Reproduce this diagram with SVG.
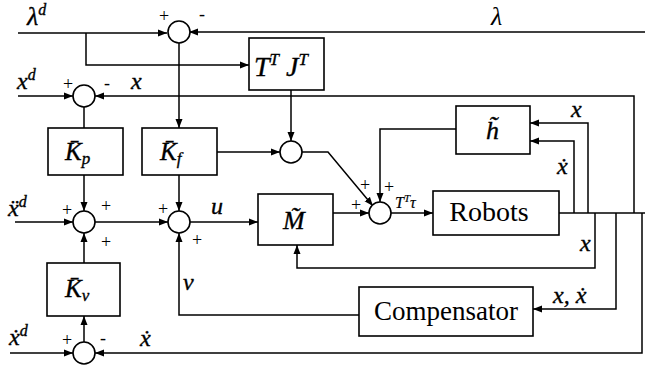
<svg xmlns="http://www.w3.org/2000/svg" width="645" height="365" viewBox="0 0 645 365">
<style>
.box{fill:#fff;stroke:#000;stroke-width:1.6}
.sum{fill:#fff;stroke:#000;stroke-width:1.6}
.ln{fill:none;stroke:#000;stroke-width:1.5}
text{font-family:'Liberation Serif','DejaVu Serif',serif;fill:#000}
.m{font-style:italic;stroke:#000;stroke-width:0.35}
.s{font-size:18px}
</style>
<defs>
<marker id="a" markerUnits="userSpaceOnUse" markerWidth="10" markerHeight="8" refX="9" refY="4" orient="auto">
<path d="M0,0.5 L9,4 L0,7.5 z" fill="#000"/>
</marker>
</defs>
<rect width="645" height="365" fill="#fff"/>
<g id="connectors">
<path class="ln" d="M18,33 H167" marker-end="url(#a)"/>
<path class="ln" d="M86,33 V65 H249" marker-end="url(#a)"/>
<path class="ln" d="M645,32 H189" marker-end="url(#a)"/>
<path class="ln" d="M179,43 V128" marker-end="url(#a)"/>
<path class="ln" d="M18,96 H73" marker-end="url(#a)"/>
<path class="ln" d="M634,213 V96 H95" marker-end="url(#a)"/>
<path class="ln" d="M84,107 V128"/>
<path class="ln" d="M84,175 V211" marker-end="url(#a)"/>
<path class="ln" d="M15,222 H73" marker-end="url(#a)"/>
<path class="ln" d="M95,222 H168" marker-end="url(#a)"/>
<path class="ln" d="M179,175 V211" marker-end="url(#a)"/>
<path class="ln" d="M217,152 H280" marker-end="url(#a)"/>
<path class="ln" d="M291,90 V141" marker-end="url(#a)"/>
<path class="ln" d="M302,152 H328 L373,206" marker-end="url(#a)"/>
<path class="ln" d="M190,222 H258" marker-end="url(#a)"/>
<path class="ln" d="M333,213 H369" marker-end="url(#a)"/>
<path class="ln" d="M456,129 H380 V202" marker-end="url(#a)"/>
<path class="ln" d="M391,213 H433" marker-end="url(#a)"/>
<path class="ln" d="M559,213 H645"/>
<path class="ln" d="M574,213 V141 H530" marker-end="url(#a)"/>
<path class="ln" d="M588,213 V123 H530" marker-end="url(#a)"/>
<path class="ln" d="M595,213 V268 H297 V245" marker-end="url(#a)"/>
<path class="ln" d="M616,213 V309 H533" marker-end="url(#a)"/>
<path class="ln" d="M642,213 V353 H95" marker-end="url(#a)"/>
<path class="ln" d="M10,353 H73" marker-end="url(#a)"/>
<path class="ln" d="M84,342 V316" marker-end="url(#a)"/>
<path class="ln" d="M84,263 V233" marker-end="url(#a)"/>
<path class="ln" d="M359,315 H179 V233" marker-end="url(#a)"/>
</g>
<g id="sum-lambda"><circle class="sum" cx="179" cy="32" r="11"/><text class="s" x="159" y="22">+</text><text class="s" x="199" y="20">-</text></g>
<g id="sum-x"><circle class="sum" cx="84" cy="96" r="11"/><text class="s" x="63" y="90">+</text><text class="s" x="104" y="89">-</text></g>
<g id="sum-a"><circle class="sum" cx="84" cy="222" r="11"/><text class="s" x="62" y="216">+</text><text class="s" x="101" y="212">+</text><text class="s" x="101" y="248">+</text></g>
<g id="sum-b"><circle class="sum" cx="179" cy="222" r="11"/><text class="s" x="158" y="215">+</text><text class="s" x="192" y="246">+</text></g>
<g id="sum-c"><circle class="sum" cx="291" cy="152" r="11"/></g>
<g id="sum-d"><circle class="sum" cx="380" cy="213" r="11"/><text class="s" x="351" y="211">+</text><text class="s" x="360" y="191">+</text><text class="s" x="384" y="193">+</text></g>
<g id="sum-e"><circle class="sum" cx="84" cy="353" r="11"/><text class="s" x="62" y="346">+</text><text class="s" x="100" y="344">-</text></g>
<g id="box-tj"><rect class="box" x="249" y="38" width="75" height="52"/><text class="m" x="254" y="76" font-size="28">T<tspan font-size="17" dy="-11">T</tspan><tspan dy="11"> J</tspan><tspan font-size="17" dy="-11">T</tspan></text></g>
<g id="box-kp"><rect class="box" x="48" y="128" width="75" height="47"/><text class="m" x="65" y="160" font-size="25">K̄<tspan font-size="17" dy="4">p</tspan></text></g>
<g id="box-kf"><rect class="box" x="142" y="128" width="75" height="47"/><text class="m" x="160" y="160" font-size="25">K̄<tspan font-size="17" dy="4">f</tspan></text></g>
<g id="box-m"><rect class="box" x="258" y="194" width="75" height="51"/><text class="m" x="283" y="229" font-size="26">M̃</text></g>
<g id="box-h"><rect class="box" x="456" y="106" width="74" height="48"/><text class="m" x="486" y="139" font-size="26">h̃</text></g>
<g id="box-robots"><rect class="box" x="433" y="191" width="126" height="44"/><text x="489" y="221" font-size="28" text-anchor="middle">Robots</text></g>
<g id="box-comp"><rect class="box" x="359" y="287" width="174" height="49"/><text x="446" y="320" font-size="27" text-anchor="middle">Compensator</text></g>
<g id="box-kv"><rect class="box" x="47" y="263" width="73" height="53"/><text class="m" x="65" y="297" font-size="25">K̄<tspan font-size="17" dy="4">v</tspan></text></g>
<g id="labels">
<text class="m" x="27" y="25" font-size="26">λ<tspan font-size="16" dy="-10">d</tspan></text>
<text x="491" y="25" font-size="26" font-style="italic">λ</text>
<text class="m" x="17" y="89" font-size="24">x<tspan font-size="16" dy="-9">d</tspan></text>
<text class="m" x="131" y="89" font-size="24">x</text>
<text class="m" x="8" y="216" font-size="24">ẍ<tspan font-size="16" dy="-9">d</tspan></text>
<text class="m" x="211" y="214" font-size="24">u</text>
<text class="m" x="183" y="290" font-size="24">v</text>
<text class="m" x="9" y="345" font-size="24">ẋ<tspan font-size="16" dy="-9">d</tspan></text>
<text class="m" x="140" y="346" font-size="24">ẋ</text>
<text class="m" x="571" y="117" font-size="24">x</text>
<text class="m" x="557" y="174" font-size="24">ẋ</text>
<text class="m" x="580" y="251" font-size="24">x</text>
<text class="m" x="553" y="303" font-size="24">x, ẋ</text>
<text class="m" x="395" y="208" font-size="16" style="stroke-width:0.2">T<tspan font-size="11" dy="-6">T</tspan><tspan dy="6" font-size="16">τ</tspan></text>
</g>
</svg>
